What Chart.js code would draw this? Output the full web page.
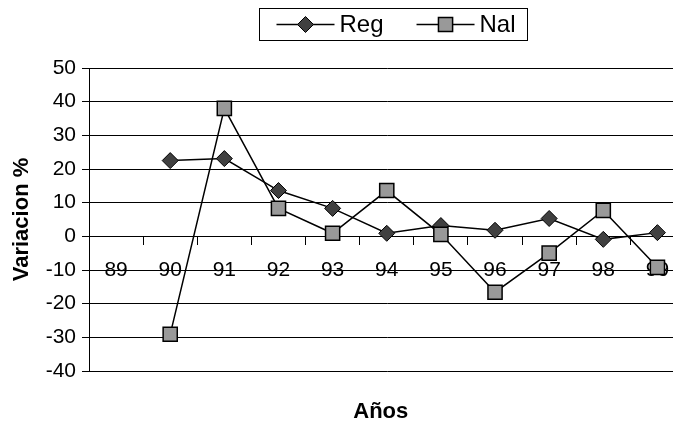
<!DOCTYPE html>
<html>
<head>
<meta charset="utf-8">
<script src="https://cdn.jsdelivr.net/npm/chart.js@4.4.1/dist/chart.umd.min.js"></script>
<style>
    html, body { margin: 0; padding: 0; background: #fff; overflow: hidden; }
    #chart { display: block; }
</style>
</head>
<body>
<canvas id="chart" width="696" height="421"></canvas>
<script>
// --- Data ---
const years = ['89', '90', '91', '92', '93', '94', '95', '96', '97', '98', '99'];
const regValues = [null, 22.5, 23.1, 13.6, 8.3, 0.9, 3.2, 1.8, 5.3, -0.9, 1.1];
const nalValues = [null, -29.1, 38.0, 8.3, 0.9, 13.6, 0.6, -16.6, -5.0, 7.7, -9.2];
const yMin = -40;
const yMax = 50;
const yStep = 10;

const FONT = '"Liberation Sans", Arial, sans-serif';

// --- Legend drawn in a box above the plot, like the original ---
const boxLegend = {
    id: 'boxLegend',
    afterLayout(chart) {
        // centre the bottom title ("Años") on the plot area, not the canvas
        if (chart.titleBlock) {
            chart.titleBlock.left = chart.chartArea.left - 6;
            chart.titleBlock.right = chart.chartArea.right - 6;
        }
    },
    afterDraw(chart) {
        const ctx = chart.ctx;
        const area = chart.chartArea;
        const lineLen = 58, gapText = 5, gapItem = 33, padL = 17, padR = 12;
        ctx.save();
        ctx.font = '24px ' + FONT;
        const items = chart.data.datasets.map(ds => ({ ds, w: ctx.measureText(ds.label).width }));
        let total = padL + padR;
        items.forEach((it, i) => { total += lineLen + gapText + it.w + (i > 0 ? gapItem : 0); });
        const left = Math.round((area.left + area.right) / 2 - total / 2) + 6.5;
        const top = 8.5, h = 32, cy = top + h / 2;
        ctx.strokeStyle = '#000';
        ctx.lineWidth = 1;
        ctx.strokeRect(left, top, Math.round(total), h);
        let x = left + padL;
        items.forEach((it, i) => {
            if (i > 0) x += gapItem;
            const ds = it.ds;
            ctx.beginPath();
            ctx.strokeStyle = ds.borderColor;
            ctx.lineWidth = ds.borderWidth;
            ctx.moveTo(x, cy);
            ctx.lineTo(x + lineLen, cy);
            ctx.stroke();
            ctx.fillStyle = ds.pointBackgroundColor;
            ctx.strokeStyle = ds.pointBorderColor;
            ctx.lineWidth = ds.pointBorderWidth;
            Chart.helpers.drawPoint(ctx, { pointStyle: ds.pointStyle, radius: ds.pointRadius, rotation: 0, borderWidth: ds.pointBorderWidth }, x + lineLen / 2, cy);
            ctx.fillStyle = '#000';
            ctx.textAlign = 'left';
            ctx.textBaseline = 'middle';
            ctx.fillText(ds.label, x + lineLen + gapText, cy + 1);
            x += lineLen + gapText + it.w;
        });
        ctx.restore();
    }
};

const ctx = document.getElementById('chart').getContext('2d');
new Chart(ctx, {
    type: 'line',
    data: {
        labels: years,
        datasets: [
            {
                label: 'Reg',
                data: regValues,
                borderColor: '#000',
                borderWidth: 1.5,
                pointStyle: 'rectRot',
                pointRadius: 8,
                pointBackgroundColor: '#404040',
                pointBorderColor: '#000',
                pointBorderWidth: 1,
                tension: 0,
                order: 1
            },
            {
                label: 'Nal',
                data: nalValues,
                borderColor: '#000',
                borderWidth: 1.5,
                pointStyle: 'rect',
                pointRadius: 10,
                pointBackgroundColor: '#999999',
                pointBorderColor: '#000',
                pointBorderWidth: 1.5,
                tension: 0,
                order: 0
            }
        ]
    },
    options: {
        responsive: false,
        animation: false,
        layout: { padding: { top: 68, left: 0, right: 0, bottom: 0 } },
        plugins: {
            legend: { display: false },
            tooltip: { enabled: false },
            title: {
                display: true,
                text: 'Años',
                position: 'bottom',
                color: '#000',
                font: { family: FONT, size: 22, weight: 'bold', lineHeight: 1 },
                padding: { top: 30, bottom: -2 }
            }
        },
        scales: {
            x: {
                position: { y: 0 },
                offset: true,
                z: 1,
                grid: { display: true, drawOnChartArea: false, drawTicks: true, tickLength: 8, offset: true, color: '#000' },
                border: { display: true, color: '#000' },
                ticks: { color: '#000', font: { family: FONT, size: 21 }, padding: 13, maxRotation: 0, autoSkip: false }
            },
            y: {
                min: yMin,
                max: yMax,
                afterFit(scale) { scale.width = 89; },
                grid: { color: '#000', tickLength: 7 },
                border: { display: true, color: '#000' },
                ticks: { stepSize: yStep, color: '#000', font: { family: FONT, size: 21 }, padding: 6 },
                title: {
                    display: true,
                    text: 'Variacion %',
                    color: '#000',
                    font: { family: FONT, size: 22, weight: 'bold' },
                    padding: { top: 9, bottom: 0 }
                }
            }
        }
    },
    plugins: [boxLegend]
});
</script>
</body>
</html>
